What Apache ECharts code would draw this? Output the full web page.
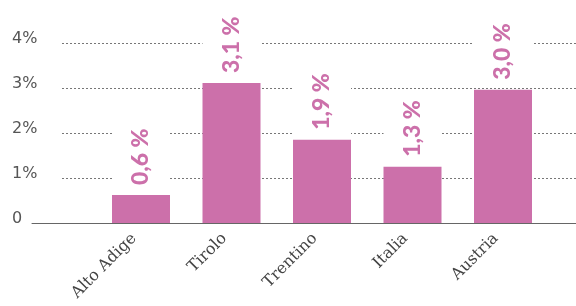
<!DOCTYPE html>
<html>
<head>
<meta charset="utf-8">
<script src="https://cdn.jsdelivr.net/npm/echarts@6/dist/echarts.min.js"></script>
<style>
  html, body { margin: 0; padding: 0; background: #fff; }
  #chart { width: 576px; height: 306px; }
</style>
</head>
<body>
<div id="chart"></div>
<script>
// dati
var categories = ['Alto Adige', 'Tirolo', 'Trentino', 'Italia', 'Austria'];
var values = [0.62, 3.11, 1.85, 1.25, 2.96];
var valueLabels = ['0,6 %', '3,1 %', '1,9 %', '1,3 %', '3,0 %'];
var yTicks = ['0', '1%', '2%', '3%', '4%'];

var pink = '#cc70aa';

var chart = echarts.init(document.getElementById('chart'));

chart.setOption({
    animation: false,
    grid: [
        // griglia tratteggiata + etichette asse y
        { left: 62, right: 0, top: 43, bottom: 83 },
        // barre
        { left: 95.75, right: 27.75, top: 43, bottom: 83 },
        // linea dello zero
        { left: 32, right: 0, top: 43, bottom: 83 }
    ],
    xAxis: [
        { gridIndex: 0, type: 'value', show: false },
        {
            gridIndex: 1,
            type: 'category',
            data: categories,
            axisLine: { show: false },
            axisTick: { show: false },
            axisLabel: {
                rotate: 45,
                margin: 6,
                interval: 0,
                padding: [0, 10, 0, 0],
                color: '#444',
                fontFamily: 'DejaVu Serif',
                fontSize: 16
            }
        },
        {
            gridIndex: 2,
            type: 'value',
            axisLine: { show: true, lineStyle: { color: '#666', width: 1 } },
            axisTick: { show: false },
            axisLabel: { show: false },
            splitLine: { show: false }
        }
    ],
    yAxis: [
        {
            gridIndex: 0,
            type: 'value',
            min: 0,
            max: 4,
            interval: 1,
            axisLine: { show: false },
            axisTick: { show: false },
            axisLabel: {
                margin: 50,
                align: 'left',
                verticalAlign: 'bottom',
                lineHeight: 8,
                color: '#555',
                fontFamily: 'DejaVu Sans',
                fontSize: 16,
                formatter: function (v) { return yTicks[v]; }
            },
            splitLine: {
                show: true,
                lineStyle: { color: '#777', width: 1, type: [2, 2] }
            }
        },
        { gridIndex: 1, type: 'value', min: 0, max: 4, show: false },
        { gridIndex: 2, type: 'value', min: 0, max: 4, show: false }
    ],
    series: [
        {
            type: 'bar',
            xAxisIndex: 1,
            yAxisIndex: 1,
            data: values,
            barWidth: 58,
            itemStyle: { color: pink },
            label: {
                show: true,
                position: 'top',
                distance: 2,
                rotate: 90,
                align: 'left',
                verticalAlign: 'middle',
                color: pink,
                fontFamily: 'Lato',
                fontWeight: 900,
                fontSize: 23,
                lineHeight: 22,
                backgroundColor: '#fff',
                padding: [18, 8, 18, 8],
                formatter: function (p) { return valueLabels[p.dataIndex]; }
            }
        }
    ]
});
</script>
</body>
</html>
